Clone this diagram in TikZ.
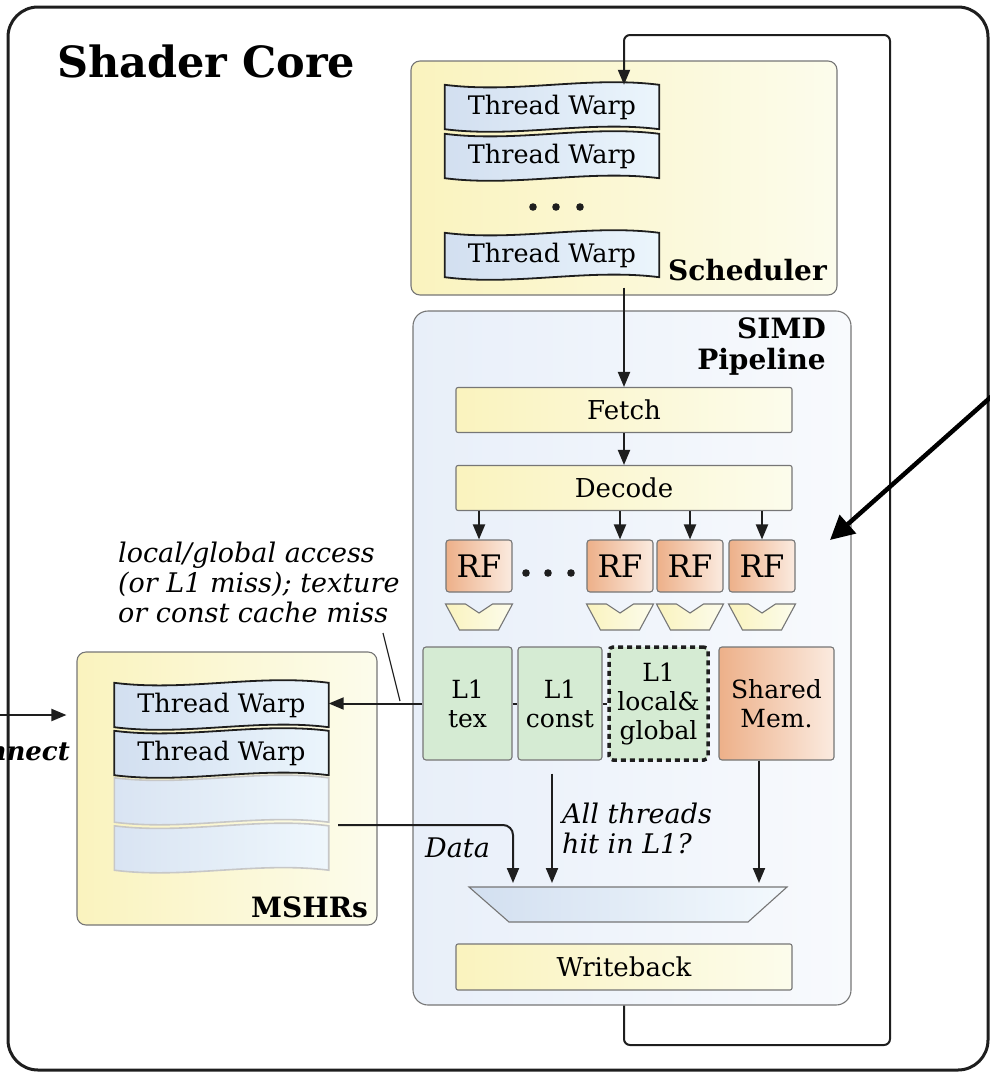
\documentclass[tikz,border=0pt]{standalone}
\usepackage{fontspec}
\setmainfont{DejaVu Serif}
\usetikzlibrary{calc,arrows.meta,positioning}

\definecolor{ylwL}{HTML}{FAF3BE}
\definecolor{ylwR}{HTML}{FCFCEC}
\definecolor{pipeL}{HTML}{E8EFF9}
\definecolor{pipeR}{HTML}{F8FAFD}
\definecolor{warpL}{HTML}{D2DFF0}
\definecolor{warpR}{HTML}{EBF5FC}
\definecolor{rfL}{HTML}{EDB089}
\definecolor{rfR}{HTML}{FBEBE0}
\definecolor{lonegreen}{HTML}{D5EBD3}
\definecolor{edge}{HTML}{767676}
\definecolor{ink}{HTML}{1E1E1E}

\tikzset{
  outerbox/.style={draw=ink, line width=3pt, rounded corners=30pt, minimum width=980pt, minimum height=1063pt, inner sep=0pt},
  panel/.style={draw=edge, line width=1.1pt, rounded corners=9pt, left color=ylwL, right color=ylwR, inner sep=0pt},
  pipepanel/.style={panel, rounded corners=15pt, left color=pipeL, right color=pipeR},
  stage/.style={draw=edge, line width=1.1pt, rounded corners=2pt, left color=ylwL, right color=ylwR,
    minimum width=336pt, minimum height=45pt, inner sep=0pt, font=\fontsize{26}{30}\selectfont},
  rfbox/.style={draw=edge, line width=1.1pt, rounded corners=3pt, left color=rfL, right color=rfR,
    minimum width=66pt, minimum height=52pt, inner sep=0pt, font=\fontsize{31}{34}\selectfont},
  cachebox/.style={draw=edge, line width=1.1pt, rounded corners=3pt, fill=lonegreen,
    minimum height=113pt, inner sep=0pt, align=center, font=\fontsize{25}{29}\selectfont},
  warpbox/.style={minimum width=214pt, minimum height=44pt, inner sep=0pt},
  warpframe/.style={draw=ink, line width=1.8pt, left color=warpL, right color=warpR},
  warpfaded/.style={draw=black!22, line width=1.6pt, left color=warpL!85, right color=warpR!80},
  warptext/.style={inner sep=0pt, font=\fontsize{25.5}{29}\selectfont},
  muxshape/.style={draw=edge, line width=1.1pt, left color=ylwL, right color=ylwR},
  mergeshape/.style={draw=edge, line width=1.1pt, left color=warpL, right color=warpR!60},
  coretitle/.style={inner sep=0pt, font=\fontsize{43}{47}\selectfont\bfseries},
  paneltitle/.style={inner sep=0pt, font=\fontsize{28}{31}\selectfont\bfseries},
  note/.style={inner sep=0pt, align=left, font=\fontsize{27}{30}\selectfont\itshape},
  flow/.style={draw=ink, line width=2pt, -{Triangle[length=15pt,width=12pt]}},
  bigflow/.style={draw=black, line width=4.5pt, -{Triangle[length=24pt,width=24pt]}}
}

% wavy thread warp: name, centre, text
\newcommand{\threadwarp}[4][warpframe]{%
  \node[warpbox] (#2) at (#3) {};
  \draw[#1] (#2.north west)
    .. controls ($(#2.north west)!0.33!(#2.north east)+(0,9)$) and ($(#2.north west)!0.67!(#2.north east)+(0,-9)$) .. (#2.north east)
    -- (#2.south east)
    .. controls ($(#2.south west)!0.67!(#2.south east)+(0,-9)$) and ($(#2.south west)!0.33!(#2.south east)+(0,9)$) .. (#2.south west)
    -- cycle;
  \node[warptext] (#2-txt) at (#2) {#4};}

% notched mux under a register file
\newcommand{\rfmux}[2]{%
  \coordinate (#1) at (#2,617);
  \draw[muxshape] ($(#1)+(-33.5,-13)$) -- ($(#1)+(-13.5,-13)$) -- ($(#1)+(0,-4)$) -- ($(#1)+(13.5,-13)$)
    -- ($(#1)+(33.5,-13)$) -- ($(#1)+(19.5,13)$) -- ($(#1)+(-19.5,13)$) -- cycle;}

\begin{document}
\begin{tikzpicture}[x=1pt, y=-1pt]
  \useasboundingbox (0,0) rectangle (990,1074);

  \node[outerbox] (core) at (498,538.5) {};
  \node[coretitle, anchor=base west] (coreTitle) at (57,77) {Shader Core};

  % scheduler
  \node[panel, minimum width=426pt, minimum height=234pt] (sched) at (624,178) {};
  \node[paneltitle, anchor=base east] (schedTitle) at (827,280) {Scheduler};
  \threadwarp{sw1}{552,107}{Thread Warp}
  \threadwarp{sw2}{552,156}{Thread Warp}
  \threadwarp{sw3}{552,255}{Thread Warp}
  \foreach \x in {533,556,580}
    \fill[ink] (\x,207) circle (3.8);

  % SIMD pipeline
  \node[pipepanel, minimum width=438pt, minimum height=694pt] (simd) at (632,658) {};
  \node[paneltitle, anchor=north east, align=right] (simdTitle) at (826,318) {SIMD\\Pipeline};

  \node[stage] (fetch) at (624,410) {Fetch};
  \node[stage] (decode) at (624,488) {Decode};

  \node[rfbox] (rf1) at (479,566) {RF};
  \node[rfbox] (rf2) at (620,566) {RF};
  \node[rfbox] (rf3) at (690,566) {RF};
  \node[rfbox] (rf4) at (762,566) {RF};
  \foreach \x in {526,548,571}
    \fill[ink] (\x,573) circle (3.8);

  \rfmux{mux1}{479}
  \rfmux{mux2}{620}
  \rfmux{mux3}{690}
  \rfmux{mux4}{762}

  \node[cachebox, minimum width=89pt] (ltex) at (467.5,703.5) {L1\\tex};
  \node[cachebox, minimum width=84pt] (lconst) at (560,703.5) {L1\\const};
  \node[cachebox, minimum width=99pt, draw=ink, line width=3.5pt, dash pattern=on 5pt off 4pt,
    rounded corners=4pt] (lglobal) at (658.5,703.5) {L1\\local\&\\global};
  \node[cachebox, minimum width=115pt, left color=rfL, right color=rfR] (shmem) at (776.5,703.5) {Shared\\Mem.};

  \coordinate (merge) at (628,904.5);
  \draw[mergeshape] ($(merge)+(-159,-17.5)$) -- ($(merge)+(159,-17.5)$) -- ($(merge)+(120,17.5)$)
    -- ($(merge)+(-119,17.5)$) -- cycle;
  \coordinate (mgin1) at (513,887);
  \coordinate (mgin2) at (552,887);
  \coordinate (mgin3) at (759,887);

  \node[stage, minimum height=46pt] (wb) at (624,967) {Writeback};

  % MSHRs
  \node[panel, minimum width=300pt, minimum height=273pt] (mshr) at (227,788.5) {};
  \node[paneltitle, anchor=base east] (mshrTitle) at (368,917) {MSHRs};
  \threadwarp{mw1}{221.5,705}{Thread Warp}
  \threadwarp{mw2}{221.5,753}{Thread Warp}
  \threadwarp[warpfaded]{mw3}{221.5,800}{}
  \threadwarp[warpfaded]{mw4}{221.5,848}{}

  % labels
  \node[note, anchor=base west] (missNote) at (118,622) {local/global access\\(or L1 miss); texture\\or const cache miss};
  \node[note, anchor=base west] (dataNote) at (425,857) {Data};
  \node[note, anchor=base west] (hitNote) at (562,853) {All threads\\hit in L1?};
  \node[inner sep=0pt, anchor=base east, font=\fontsize{26}{30}\selectfont\bfseries\itshape] (icNote) at (70,760) {Interconnect};

  % connectors
  \coordinate (loopSE) at (890,1045);
  \coordinate (loopNE) at (890,35);
  \draw[flow, rounded corners=6pt] (simd.south -| wb) |- (loopSE) -- (loopNE) -| (sw1.north -| wb);
  \draw[flow] ([yshift=8pt]sched.south -| fetch) -- (fetch.north);
  \draw[flow] (fetch) -- (decode);
  \foreach \r in {rf1,rf2,rf3,rf4}
    \draw[flow] (decode.south -| \r) -- (\r.north);

  \draw[flow] (ltex.west) -- (ltex.west -| mw1.east);
  \draw[draw=ink, line width=2pt] (ltex.east) -- (lconst.west);
  \draw[draw=ink, line width=2pt] (lconst.east) -- (lglobal.west);
  \coordinate (missTap) at (400,701);
  \draw[draw=ink, line width=1.2pt] (383,633) -- (missTap);

  \coordinate (mshrOut) at (338,825);
  \draw[flow, rounded corners=10pt, shorten >=4pt] (mshrOut) -| (mgin1);
  \draw[flow, shorten >=4pt] ([yshift=-13pt]lconst.south -| mgin2) -- (mgin2);
  \draw[flow, shorten >=4pt] (shmem.south -| mgin3) -- (mgin3);

  \coordinate (icIn) at (0,715);
  \draw[flow, shorten >=10pt] (icIn) -- (mshr.west |- icIn);

  \coordinate (farSrc) at (992,396);
  \coordinate (farTgt) at (830,540);
  \draw[bigflow] (farSrc) -- (farTgt);
\end{tikzpicture}
\end{document}
